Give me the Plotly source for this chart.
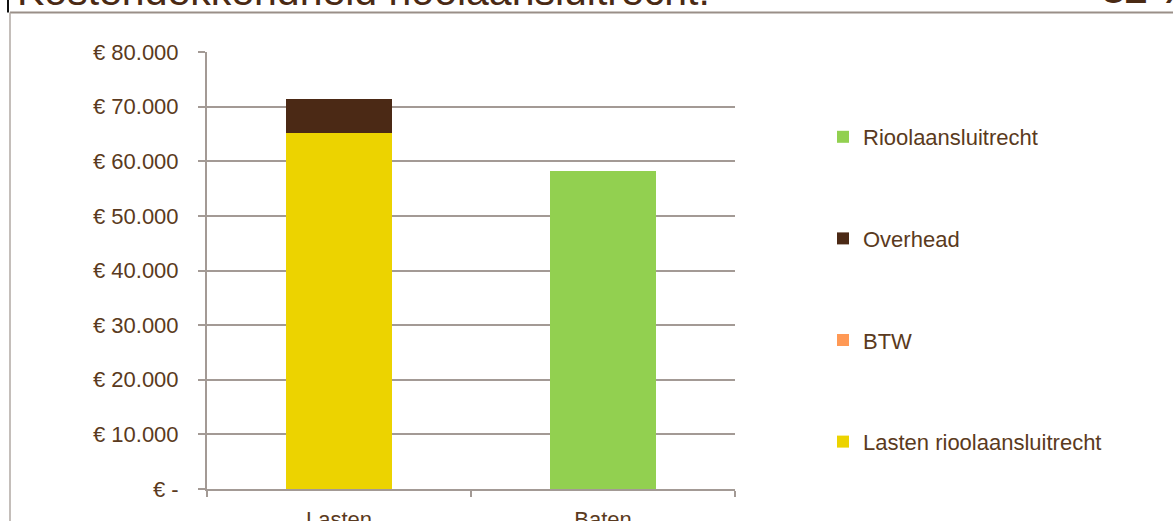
import plotly.graph_objects as go

categories = ["Lasten", "Baten"]
lasten_riool = [65200, 0]
btw = [0, 0]
overhead = [6200, 0]
rioolaansluitrecht = [0, 58200]

tick_vals = [0, 10000, 20000, 30000, 40000, 50000, 60000, 70000, 80000]
tick_text = ["€ -", "€ 10.000", "€ 20.000", "€ 30.000", "€ 40.000",
             "€ 50.000", "€ 60.000", "€ 70.000", "€ 80.000"]

title_text = "Kostendekkendheid rioolaansluitrecht."
pct_text = "82 %"

TXT = "#5a3a20"
GRID = "#a39a95"
FONT = "Liberation Sans, Arial, sans-serif"

W, H = 1173, 521
L, R, T, B = 207, 438, 52, 32
pw, ph = W - L - R, H - T - B

def px(x):
    return (x - L) / pw

def py(y):
    return (H - B - y) / ph

fig = go.Figure()
series = [
    ("Lasten rioolaansluitrecht", lasten_riool, "#ecd300", 4),
    ("BTW", btw, "#ff9955", 3),
    ("Overhead", overhead, "#4b2915", 2),
    ("Rioolaansluitrecht", rioolaansluitrecht, "#92d050", 1),
]
for name, vals, col, rank in series:
    fig.add_trace(go.Bar(x=categories, y=vals, name=name, legendgroup=name,
                         legendrank=rank,
                         marker=dict(color=col, line=dict(width=0))))

fig.update_layout(
    template="none",
    width=W, height=H,
    margin=dict(l=L, r=R, t=T, b=B, pad=0, autoexpand=False),
    barmode="stack", bargap=0.6,
    paper_bgcolor="white", plot_bgcolor="white",
    font=dict(family=FONT, size=22, color=TXT),
    showlegend=True,
    legend=dict(x=px(823), y=py(116), xanchor="left", yanchor="top",
                traceorder="grouped", tracegroupgap=70,
                font=dict(size=22, color=TXT), bgcolor="rgba(0,0,0,0)",
                borderwidth=0),
    xaxis=dict(type="category", automargin=False, showline=True, linecolor=GRID,
               linewidth=2, ticks="outside", tickson="boundaries", ticklen=6,
               tickcolor=GRID, tickwidth=2, showgrid=False, ticklabelstandoff=10,
               tickfont=dict(size=22, color=TXT)),
    yaxis=dict(range=[0, 80000], automargin=False, tickvals=tick_vals,
               ticktext=tick_text, showline=True, linecolor=GRID, linewidth=2,
               ticks="outside", ticklen=7, tickcolor=GRID, tickwidth=2,
               showgrid=True, gridcolor=GRID, gridwidth=2, zeroline=False,
               ticklabelstandoff=15, tickfont=dict(size=22, color=TXT)),
)

fig.add_annotation(text=title_text, xref="paper", yref="paper", x=px(15), y=py(16),
                   xanchor="left", yanchor="bottom", showarrow=False,
                   font=dict(size=41, color="#4a2a14", family=FONT))
fig.add_annotation(text=pct_text, xref="paper", yref="paper", x=px(1100), y=py(14),
                   xanchor="left", yanchor="bottom", showarrow=False,
                   font=dict(size=41, color="#4a2a14", family=FONT, weight="bold"))

fig.add_shape(type="line", xref="paper", yref="paper", x0=px(10), x1=px(1180),
              y0=py(12.5), y1=py(12.5), line=dict(color="#9a8f88", width=2))
fig.add_shape(type="line", xref="paper", yref="paper", x0=px(10), x1=px(10),
              y0=py(12.5), y1=py(530), line=dict(color="#b0a8a3", width=1.5))
fig.add_shape(type="line", xref="paper", yref="paper", x0=px(8), x1=px(8),
              y0=py(-5), y1=py(12.5), line=dict(color="#111111", width=2))

fig.write_html("out.html", config={"displayModeBar": False},
               post_script="document.body.style.margin='0';document.body.style.overflow='hidden';")
